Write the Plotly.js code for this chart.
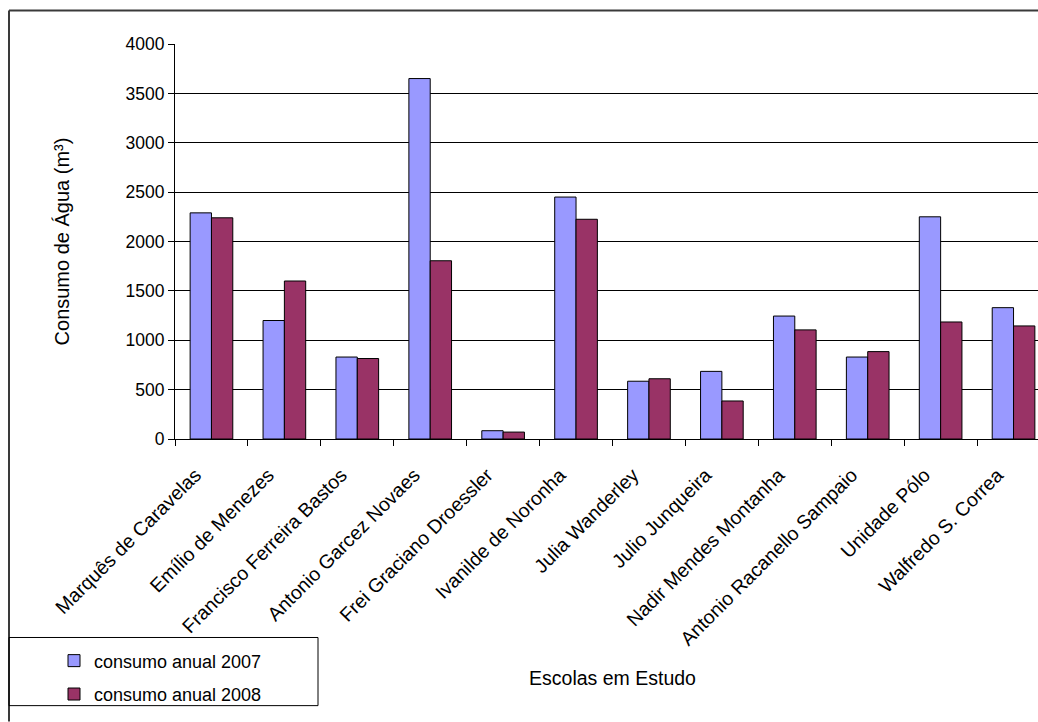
<!DOCTYPE html>
<html>
<head>
<meta charset="utf-8">
<script src="https://cdn.plot.ly/plotly-3.0.1.min.js"></script>
<style>
html,body{margin:0;padding:0;background:#fff;overflow:hidden;width:1038px;height:722px;}
#chart{width:1060px;height:722px;}
</style>
</head>
<body>
<div id="chart"></div>
<script>
const escolas = [
  "Marquês de Caravelas",
  "Emílio de Menezes",
  "Francisco Ferreira Bastos",
  "Antonio Garcez Novaes",
  "Frei Graciano Droessler",
  "Ivanilde de Noronha",
  "Julia Wanderley",
  "Julio Junqueira",
  "Nadir Mendes Montanha",
  "Antonio Racanello Sampaio",
  "Unidade Pólo",
  "Walfredo S. Correa"
];
const consumo2007 = [2290, 1200, 830, 3650, 84, 2450, 585, 685, 1245, 830, 2250, 1330];
const consumo2008 = [2240, 1600, 815, 1805, 70, 2225, 610, 385, 1105, 885, 1185, 1145];
const nome2007 = "consumo anual 2007";
const nome2008 = "consumo anual 2008";
const yTicks = [0, 500, 1000, 1500, 2000, 2500, 3000, 3500, 4000];

const FONT = "Arial, 'Liberation Sans', sans-serif";

const traces = [
  {type: "bar", x: escolas, y: consumo2007, name: nome2007, legendgroup: "a",
   marker: {color: "#9999FF", line: {color: "#000", width: 1}}},
  {type: "bar", x: escolas, y: consumo2008, name: nome2008, legendgroup: "b",
   marker: {color: "#993366", line: {color: "#000", width: 1}}}
];

// pixel helpers for paper coords (plot area x 175..1050, y 44..444)
const L = 175, R = 1050, T = 44, B = 444;
const px = v => (v - L) / (R - L);
const py = v => (B - v) / (B - T);

const layout = {
  width: 1060, height: 722,
  margin: {l: L, r: 1060 - R, t: T, b: 722 - B, pad: 0},
  paper_bgcolor: "#fff", plot_bgcolor: "#fff",
  font: {family: FONT, color: "#000", size: 16},
  barmode: "group", bargap: 0.415, bargroupgap: 0,
  showlegend: true,
  legend: {
    x: px(54), y: py(650), xanchor: "left", yanchor: "top",
    bgcolor: "rgba(0,0,0,0)", borderwidth: 0,
    font: {family: FONT, size: 18, color: "#000"},
    traceorder: "grouped", tracegroupgap: 7
  },
  xaxis: {
    type: "category",
    tickangle: -45,
    ticks: "outside", ticklen: 6, tickcolor: "#000", tickwidth: 1,
    tickson: "boundaries",
    ticklabelstandoff: 16, ticklabelshift: -16,
    showline: true, linecolor: "#000", linewidth: 1,
    showgrid: false, automargin: false,
    tickfont: {family: FONT, size: 19.5, color: "#000"},
    title: {text: "Escolas em Estudo", font: {family: FONT, size: 19.5, color: "#000"}, standoff: 22}
  },
  yaxis: {
    range: [0, 4000], tickvals: yTicks, ticktext: yTicks.map(String),
    ticks: "outside", ticklen: 6, tickcolor: "#000", tickwidth: 1,
    showline: true, linecolor: "#000", linewidth: 1,
    showgrid: true, gridcolor: "#000", gridwidth: 1,
    zeroline: false, automargin: false,
    tickfont: {family: FONT, size: 17.5, color: "#000"},
    title: {text: "Consumo de Água (m³)", font: {family: FONT, size: 20, color: "#000"}, standoff: 50}
  },
  shapes: [
    // outer chart frame (top and left edges visible)
    {type: "line", xref: "paper", yref: "paper", x0: px(9), x1: px(1070), y0: py(10), y1: py(10),
     line: {color: "#3a3a3a", width: 2}},
    {type: "line", xref: "paper", yref: "paper", x0: px(9), x1: px(9), y0: py(10), y1: py(730),
     line: {color: "#3a3a3a", width: 2}},
    // legend box
    {type: "rect", xref: "paper", yref: "paper", x0: px(9), x1: px(318), y0: py(645), y1: py(714),
     line: {color: "#000", width: 1}, fillcolor: "rgba(0,0,0,0)"}
  ]
};

Plotly.newPlot("chart", traces, layout, {staticPlot: true, displayModeBar: false});
</script>
</body>
</html>
